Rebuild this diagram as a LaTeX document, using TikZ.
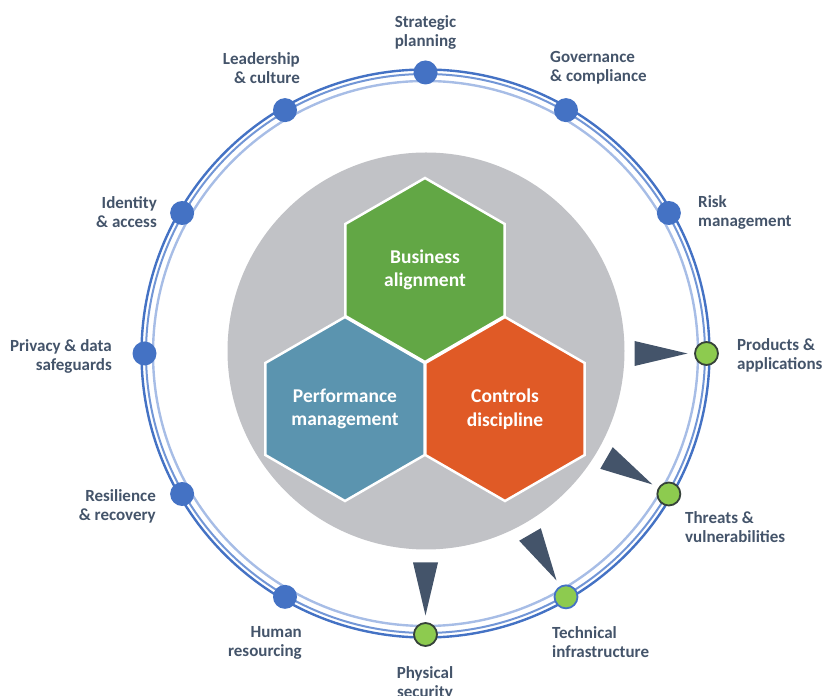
\documentclass[tikz,border=0pt]{standalone}
\usepackage{fontspec}
\setmainfont{Carlito}
\begin{document}
\definecolor{txt}{HTML}{44546A}
\definecolor{ringdark}{HTML}{4472C4}
\definecolor{ringmid}{HTML}{7296D6}
\definecolor{ringlight}{HTML}{A7BDE6}
\definecolor{dotblue}{HTML}{4472C4}
\definecolor{dotgreen}{HTML}{8DCB4F}
\definecolor{dotedge}{HTML}{36423A}
\definecolor{pointer}{HTML}{44546A}
\definecolor{disc}{HTML}{C1C2C6}
\definecolor{hexgreen}{HTML}{62A745}
\definecolor{hexblue}{HTML}{5B94AF}
\definecolor{hexorange}{HTML}{E05A26}
\begin{tikzpicture}[x=1pt,y=1pt,
  lab/.style={text=txt,font=\fontsize{17}{19}\selectfont\bfseries,inner sep=0pt},
  labL/.style={lab,anchor=west,align=left},
  labR/.style={lab,anchor=east,align=right},
  labC/.style={lab,anchor=center,align=center},
  hexlab/.style={text=white,font=\fontsize{19.5}{23.5}\selectfont\bfseries,align=center,inner sep=0pt},
  hexcell/.style={draw=white,line width=2.5pt,line join=miter},
  bdot/.style={circle,fill=dotblue,minimum size=24pt,inner sep=0pt},
  gdot/.style={circle,fill=dotgreen,draw=dotedge,line width=1.8pt,minimum size=23pt,inner sep=0pt},
  tri/.style={fill=pointer}]
\useasboundingbox (0,0) rectangle (823,696);
\coordinate (C) at (425.5,342.5);

% grey disc behind the hexagons
\fill[disc] (426,345) circle (198.5);

% three hexagons
\coordinate (HG) at (425,426);
\coordinate (HB) at (345,287);
\coordinate (HO) at (505,287);
\foreach \h/\c in {HG/hexgreen,HB/hexblue,HO/hexorange}{
  \path[hexcell,fill=\c] (\h) +(90:92) -- +(150:92) -- +(210:92) -- +(270:92) -- +(330:92) -- +(30:92) -- cycle;
}
\node[hexlab] (tBA) at (HG) {Business\\alignment};
\node[hexlab] (tPM) at (HB) {Performance\\management};
\node[hexlab] (tCD) at (HO) {Controls\\discipline};

% pointers toward the green stations
\foreach \a in {0,-30,-60,-90}{
  \begin{scope}[shift={(C)},rotate=\a]
    \fill[tri] (209,12.5) -- (262,0) -- (209,-12.5) -- cycle;
  \end{scope}
}

% triple ring
\draw[ringlight,line width=2.4pt] (C) circle (272.5);
\draw[ringmid,line width=2pt] (C) circle (279.5);
\draw[ringdark,line width=2.4pt] (C) circle (284);

% stations on the ring
\path (C) ++(90:281)  node[bdot] (sSP) {};
\path (C) ++(60:281)  node[bdot] (sGC) {};
\path (C) ++(30:281)  node[bdot] (sRM) {};
\path (C) ++(0:281)   node[gdot] (sPA) {};
\path (C) ++(-30:281) node[gdot] (sTV) {};
\path (C) ++(-60:281) node[gdot,draw=ringdark] (sTI) {};
\path (C) ++(-90:281) node[gdot] (sPS) {};
\path (C) ++(-120:281) node[bdot] (sHR) {};
\path (C) ++(-150:281) node[bdot] (sRR) {};
\path (C) ++(180:281) node[bdot] (sPD) {};
\path (C) ++(150:281) node[bdot] (sIA) {};
\path (C) ++(120:281) node[bdot] (sLC) {};

% labels
\node[labC] (lSP) at (425.5,664) {Strategic\\planning};
\node[labL] (lGC) at (550,628) {Governance\\\& compliance};
\node[labL] (lRM) at (698,484) {Risk\\management};
\node[labL] (lPA) at (737,341) {Products \&\\applications};
\node[labL] (lTV) at (685,169) {Threats \&\\vulnerabilities};
\node[labL] (lTI) at (552,54) {Technical\\infrastructure};
\node[labC] (lPS) at (425,13) {Physical\\security};
\node[labR] (lHR) at (302,53) {Human\\resourcing};
\node[labR] (lRR) at (156,190) {Resilience\\\& recovery};
\node[labR] (lPD) at (112,340) {Privacy \& data\\safeguards};
\node[labR] (lIA) at (157,484) {Identity\\\& access};
\node[labR] (lLC) at (300,628) {Leadership\\\& culture};
\end{tikzpicture}
\end{document}
